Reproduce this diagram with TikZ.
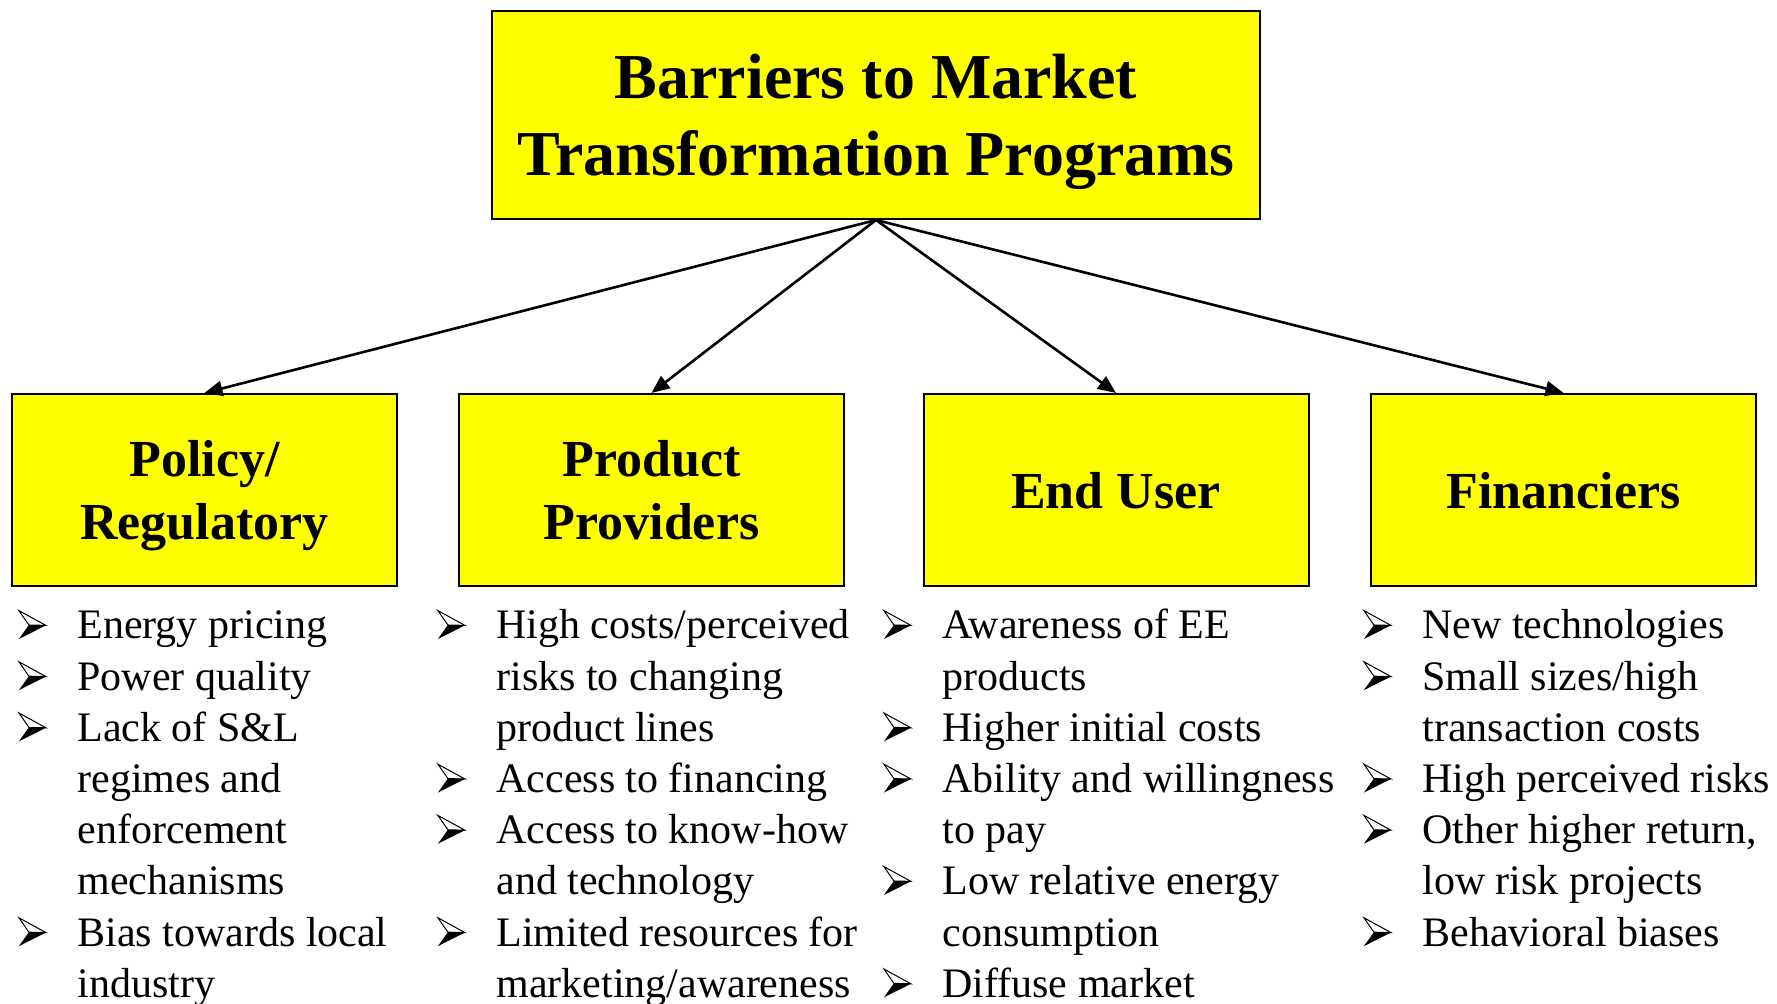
\documentclass[tikz,border=0pt]{standalone}
\usepackage{fontspec}
\setmainfont{Liberation Serif}
\usepackage{tikz}
\usetikzlibrary{arrows.meta}
\definecolor{boxyellow}{HTML}{FFFF00}
\newsavebox{\bulletbox}
\newcommand{\arrowbullet}{\usebox{\bulletbox}}
\newcommand{\itemcol}{@{}p{29.5pt}@{}l@{}}

\begin{document}
% arrowhead bullet, white upper half, black lower half
\sbox{\bulletbox}{\begin{pgfpicture}
  \pgfsetlinewidth{0.5pt}\pgfsetmiterjoin
  \pgfpathmoveto{\pgfpoint{0pt}{14.2pt}}
  \pgfpathlineto{\pgfpoint{13.5pt}{6.8pt}}
  \pgfpathlineto{\pgfpoint{5pt}{7pt}}
  \pgfpathclose
  \pgfusepath{stroke}
  \pgfpathmoveto{\pgfpoint{0pt}{0pt}}
  \pgfpathlineto{\pgfpoint{13.5pt}{6.8pt}}
  \pgfpathlineto{\pgfpoint{5pt}{7pt}}
  \pgfpathclose
  \pgfusepath{fill}
\end{pgfpicture}}%
\begin{tikzpicture}[x=0.5pt,y=0.5pt,
  headbox/.style={draw=black,line width=1pt,fill=boxyellow,inner sep=0pt,align=center,text depth=0pt,
    font=\bfseries\fontsize{26}{31.7}\selectfont,minimum width=192.5pt,minimum height=96pt},
  itemlist/.style={anchor=base west,inner sep=0pt,font=\fontsize{21}{25.6}\selectfont},
  link/.style={-{Triangle[length=9pt,width=7.5pt]},line width=1.3pt}]
  \useasboundingbox (0,0) rectangle (1777,1004);

  \node[headbox,minimum width=384pt,minimum height=104pt,font=\bfseries\fontsize{32}{38.8}\selectfont]
    (title) at (876,889) {Barriers to Market\\Transformation Programs};

  \node[headbox] (policy) at (204.5,514) {Policy/\\Regulatory};
  \node[headbox] (providers) at (651.5,514) {Product\\Providers};
  \node[headbox] (enduser) at (1116,514) {End User};
  \node[headbox] (financiers) at (1563.5,514) {Financiers};

  \foreach \n in {policy,providers,enduser,financiers}
    \draw[link] (title.south) -- (\n.north);

  \node[itemlist] (policyitems) at (18,365) {\begin{tabular}[t]{\itemcol}
    \arrowbullet & Energy pricing\\
    \arrowbullet & Power quality\\
    \arrowbullet & Lack of S\&L\\
                 & regimes and\\
                 & enforcement\\
                 & mechanisms\\
    \arrowbullet & Bias towards local\\
                 & industry
  \end{tabular}};
  \node[itemlist] (provideritems) at (437,365) {\begin{tabular}[t]{\itemcol}
    \arrowbullet & High costs/perceived\\
                 & risks to changing\\
                 & product lines\\
    \arrowbullet & Access to financing\\
    \arrowbullet & Access to know-how\\
                 & and technology\\
    \arrowbullet & Limited resources for\\
                 & marketing/awareness
  \end{tabular}};
  \node[itemlist] (enduseritems) at (883,365) {\begin{tabular}[t]{\itemcol}
    \arrowbullet & Awareness of EE\\
                 & products\\
    \arrowbullet & Higher initial costs\\
    \arrowbullet & Ability and willingness\\
                 & to pay\\
    \arrowbullet & Low relative energy\\
                 & consumption\\
    \arrowbullet & Diffuse market
  \end{tabular}};
  \node[itemlist] (financieritems) at (1363,365) {\begin{tabular}[t]{\itemcol}
    \arrowbullet & New technologies\\
    \arrowbullet & Small sizes/high\\
                 & transaction costs\\
    \arrowbullet & High perceived risks\\
    \arrowbullet & Other higher return,\\
                 & low risk projects\\
    \arrowbullet & Behavioral biases
  \end{tabular}};
\end{tikzpicture}
\end{document}
